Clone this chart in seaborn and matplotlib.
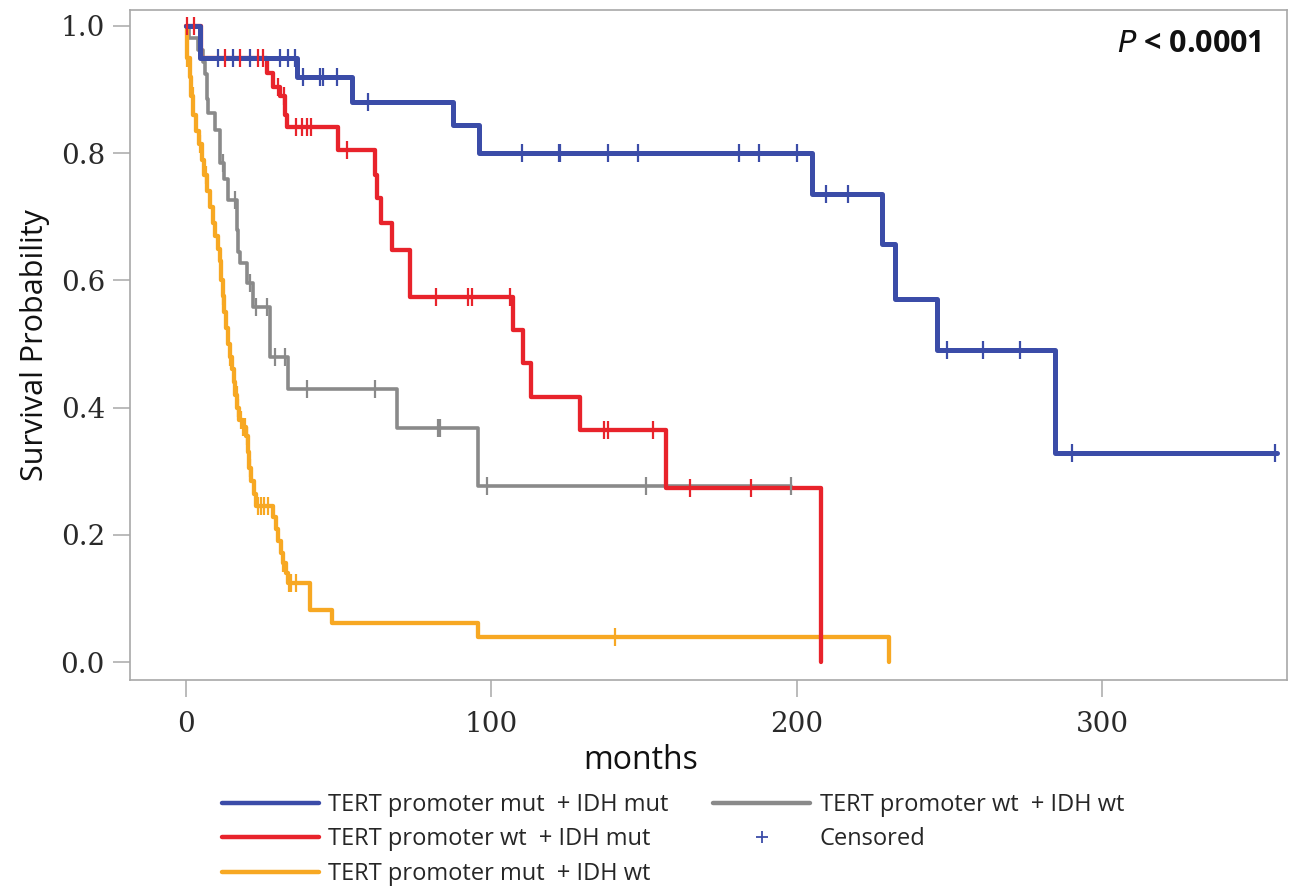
import numpy as np
import pandas as pd
import matplotlib
matplotlib.use('Agg')
import matplotlib.pyplot as plt
from matplotlib.lines import Line2D
import seaborn as sns

# group labels (legend text)
groups = ['TERT promoter mut  + IDH mut', 'TERT promoter wt  + IDH mut',
          'TERT promoter mut  + IDH wt', 'TERT promoter wt  + IDH wt']
colors = ['#3b4ca8', '#e8232b', '#f7a823', '#8a8a8a']

# Kaplan-Meier step events (months, survival after the step)
blue_t = [0, 4.5, 36.5, 54.3, 87.5, 96, 205, 228, 232, 246, 284.5, 357]
blue_s = [1.0, 0.95, 0.92, 0.88, 0.844, 0.80, 0.736, 0.657, 0.571, 0.49, 0.328, 0.328]
blue_cens = [10.5, 15.4, 21, 30.8, 33.4, 35.8, 38.4, 43.9, 45, 49.5, 59.7, 110, 122, 122.5,
             138, 148, 181, 187.6, 200, 209.5, 216.7, 249, 261, 273, 290, 356.5]

red_t = [0, 5.1, 26.5, 28.5, 30.8, 32.4, 33.2, 49.8, 62, 62.6, 64, 67.4, 73.3, 107, 110.4,
         113, 129, 157, 208]
red_s = [1.0, 0.95, 0.926, 0.904, 0.89, 0.86, 0.841, 0.805, 0.765, 0.73, 0.69, 0.648, 0.574,
         0.522, 0.47, 0.417, 0.365, 0.274, 0.0]
red_cens = [0.5, 2.5, 12.8, 17.7, 23.6, 25.2, 30.0, 32.0, 36, 38, 39.6, 41, 52.6, 82, 92.3,
            93.6, 106, 137, 138, 153, 165, 185]

orange_t = [0, 0.3, 1.2, 1.8, 2.4, 3.2, 4.2, 5.2, 6.0, 7.0, 8.0, 8.8, 9.6, 10.4, 11.0, 11.6,
            12.1, 12.6, 13.2, 13.8, 14.4, 15.0, 15.6, 16.2, 16.8, 17.4, 18.6, 19.6, 20.2,
            20.8, 21.4, 22.2, 23.0, 28.6, 29.4, 30.2, 31.0, 31.8, 32.6, 33.4, 40.6, 47.8,
            95.6, 230]
orange_s = [1.0, 0.95, 0.92, 0.89, 0.86, 0.835, 0.815, 0.79, 0.765, 0.74, 0.715, 0.69, 0.67,
            0.65, 0.63, 0.60, 0.575, 0.55, 0.525, 0.50, 0.48, 0.46, 0.44, 0.42, 0.40, 0.38,
            0.37, 0.355, 0.33, 0.305, 0.285, 0.265, 0.245, 0.228, 0.21, 0.19, 0.172, 0.156,
            0.14, 0.124, 0.082, 0.061, 0.04, 0.0]
orange_cens = [0.5, 2.3, 4.5, 6.5, 12.1, 14.4, 16.6, 17.2, 18.0, 18.8, 19.5, 20.0, 21.0,
               23.6, 24.5, 25.5, 27.0, 31.8, 33.6, 34.5, 36.0, 140.5]

gray_t = [0, 1, 4, 5.6, 6.2, 6.8, 7.2, 9.5, 11.1, 12.5, 13.7, 16.6, 17.0, 17.7, 19.9, 22.0,
          27.5, 33.4, 69, 95.6, 198]
gray_s = [1.0, 0.981, 0.962, 0.944, 0.925, 0.885, 0.863, 0.836, 0.785, 0.76, 0.726, 0.68,
          0.645, 0.627, 0.596, 0.558, 0.48, 0.43, 0.368, 0.277, 0.277]
gray_cens = [12.1, 16.0, 21.0, 22.8, 26.5, 29.0, 32.4, 39.6, 62.0, 82.5, 83.2, 98.5, 150.6, 198]

curves = [(blue_t, blue_s, blue_cens), (red_t, red_s, red_cens),
          (orange_t, orange_s, orange_cens), (gray_t, gray_s, gray_cens)]
widths = [3.6, 3.1, 3.1, 2.6]

sns.set_theme(style='white')
plt.rcParams['font.family'] = ['Open Sans', 'DejaVu Sans']

fig = plt.figure(figsize=(12.91, 8.86), dpi=100)
ax = fig.add_axes([130 / 1291, 1 - 680 / 886, 1157 / 1291, 670 / 886])

# draw gray first so the coloured curves sit on top
order = [3, 2, 1, 0]
for i in order:
    t, s, cens = curves[i]
    df = pd.DataFrame({'months': t, 'surv': s})
    sns.lineplot(data=df, x='months', y='surv', ax=ax, color=colors[i], lw=widths[i],
                 drawstyle='steps-post', estimator=None, sort=False)
    idx = np.searchsorted(np.array(t), np.array(cens), side='right') - 1
    cdf = pd.DataFrame({'months': cens, 'surv': np.array(s)[idx]})
    sns.scatterplot(data=cdf, x='months', y='surv', ax=ax, marker='|', s=170,
                    color=colors[i], linewidth=1.6, zorder=5)

ax.set_xlim(-18.3, 360.4)
ax.set_ylim(-0.028, 1.025)
ax.set_xticks([0, 100, 200, 300])
ax.set_yticks([0.0, 0.2, 0.4, 0.6, 0.8, 1.0])
ax.set_yticklabels(['0.0', '0.2', '0.4', '0.6', '0.8', '1.0'])
for sp in ax.spines.values():
    sp.set_color('#a8a8a8')
    sp.set_linewidth(1.2)
ax.tick_params(axis='both', direction='out', length=12, width=1.1, color='#a8a8a8',
               labelsize=20, labelcolor='#2a2a2a', pad=6, bottom=True, left=True)
ax.tick_params(axis='x', pad=10)
for lab in ax.get_xticklabels() + ax.get_yticklabels():
    lab.set_family('DejaVu Serif')

ax.set_xlabel('months', fontsize=23, color='#111111')
ax.xaxis.set_label_coords((641 - 130) / 1157, -0.095)
ax.set_ylabel('Survival Probability', fontsize=22, color='#111111', labelpad=8)

ax.text(0.978, 0.972, r'$\bf{\it{P}}$' + ' < 0.0001', transform=ax.transAxes, ha='right',
        va='top', fontsize=22, fontweight='bold', color='#111111')

handles = [Line2D([], [], color=colors[0], lw=3.2),
           Line2D([], [], color=colors[1], lw=3.2),
           Line2D([], [], color=colors[2], lw=3.2),
           Line2D([], [], color=colors[3], lw=3.2),
           Line2D([], [], color='#3b4ca8', lw=0, marker='+', markersize=9, mew=1.3)]
labels = groups[:3] + [groups[3], 'Censored']
fig.legend(handles, labels, ncol=2, loc='upper left', bbox_to_anchor=(222 / 1291, 1 - 793 / 886),
           frameon=False, fontsize=17, handlelength=4.1, handletextpad=0.4,
           columnspacing=1.9, labelspacing=0.44, borderaxespad=0, borderpad=0)

fig.savefig('out.png', dpi=100, facecolor='white')
